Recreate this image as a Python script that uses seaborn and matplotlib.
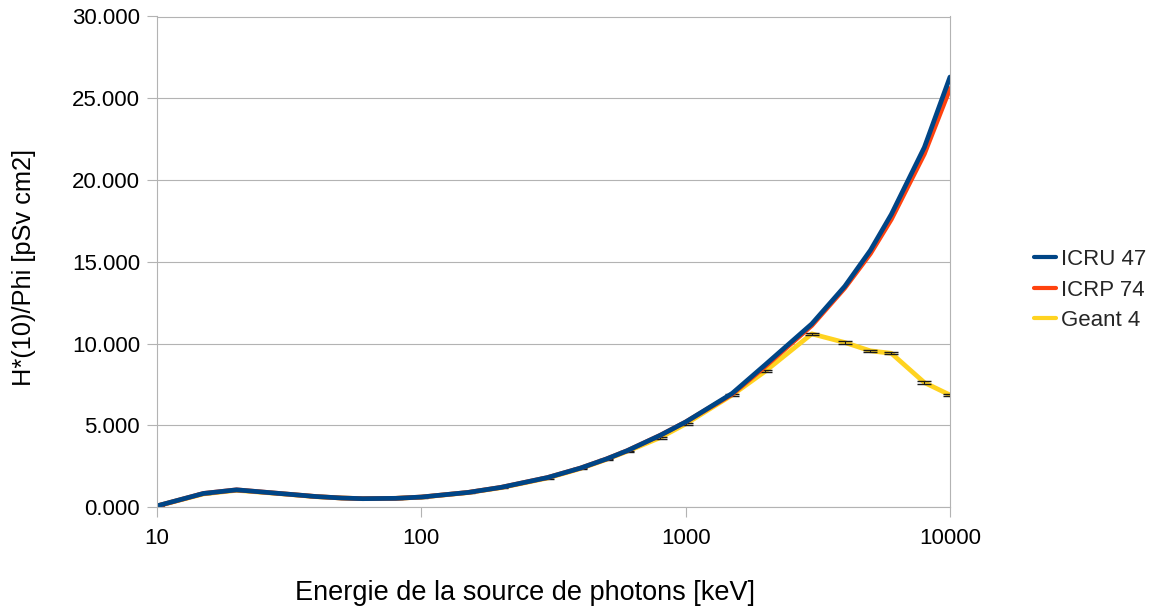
import numpy as np
import pandas as pd
import matplotlib
matplotlib.use("Agg")
import matplotlib.pyplot as plt
from matplotlib.ticker import FuncFormatter, NullLocator
import seaborn as sns

# Photon energies [keV]
energies = [10, 15, 20, 30, 40, 50, 60, 80, 100, 150, 200, 300, 400, 500,
            600, 800, 1000, 1500, 2000, 3000, 4000, 5000, 6000, 8000, 10000]

# Ambient dose equivalent per fluence H*(10)/Phi [pSv cm2]
icru47 = [0.07, 0.83, 1.05, 0.81, 0.64, 0.55, 0.51, 0.53, 0.61, 0.89, 1.20,
          1.80, 2.38, 2.93, 3.44, 4.38, 5.20, 6.95, 8.70, 11.2, 13.5, 15.7,
          17.9, 22.0, 26.3]
icrp74 = [0.061, 0.83, 1.05, 0.81, 0.64, 0.55, 0.51, 0.53, 0.61, 0.89, 1.20,
          1.80, 2.38, 2.93, 3.44, 4.38, 5.20, 6.90, 8.60, 11.1, 13.4, 15.5,
          17.6, 21.6, 25.6]
geant4 = [0.06, 0.80, 1.02, 0.80, 0.63, 0.55, 0.51, 0.53, 0.60, 0.88, 1.18,
          1.77, 2.35, 2.90, 3.40, 4.24, 5.08, 6.85, 8.30, 10.59, 10.06, 9.55,
          9.40, 7.61, 6.85]
geant4_err = [0.02, 0.03, 0.03, 0.03, 0.03, 0.03, 0.03, 0.03, 0.03, 0.04,
              0.04, 0.05, 0.05, 0.05, 0.05, 0.06, 0.06, 0.06, 0.06, 0.07,
              0.07, 0.07, 0.07, 0.08, 0.08]

series_names = ["ICRU 47", "ICRP 74", "Geant 4"]
series_colors = ["#004586", "#ff420e", "#ffd320"]

x_ticks = [10, 100, 1000, 10000]
x_tick_labels = ["10", "100", "1000", "10000"]
y_ticks = [0, 5, 10, 15, 20, 25, 30]

x_title = "Energie de la source de photons [keV]"
y_title = "H*(10)/Phi [pSv cm2]"

df = pd.concat([
    pd.DataFrame({"E": energies, "H": vals, "serie": name})
    for name, vals in zip(series_names, [icru47, icrp74, geant4])
], ignore_index=True)

sns.set_theme(style="white")
plt.rcParams["font.family"] = ["Liberation Sans", "DejaVu Sans"]

grey = "#b3b3b3"
fig = plt.figure(figsize=(11.53, 6.07), dpi=100)
ax = fig.add_axes([157 / 1153, 100 / 607, (950 - 157) / 1153, (507 - 16.5) / 607])

palette = dict(zip(series_names, series_colors))
# Geant 4 underneath, ICRU 47 on top
draw_order = ["Geant 4", "ICRP 74", "ICRU 47"]
sns.lineplot(data=df, x="E", y="H", hue="serie", hue_order=draw_order,
             palette=palette, linewidth=3.4, ax=ax, legend=False,
             estimator=None, sort=False)
for z, line in zip([2.0, 2.2, 2.3], ax.lines):
    line.set_zorder(z)
    line.set_solid_joinstyle("round")

# Statistical uncertainty of the simulation, drawn over its own line only
ax.errorbar(energies, geant4, yerr=geant4_err, fmt="none", ecolor="#1a1a1a",
            elinewidth=0.8, capsize=5, capthick=1.0, zorder=2.1)

ax.set_xscale("log")
ax.set_xlim(10, 10000)
ax.set_ylim(0, 30)
ax.set_xticks(x_ticks, labels=x_tick_labels)
ax.xaxis.set_minor_locator(NullLocator())
ax.set_yticks(y_ticks)
ax.yaxis.set_major_formatter(FuncFormatter(lambda v, p: f"{v:.3f}"))
ax.set_xlabel("")
ax.set_ylabel("")

ax.grid(axis="y", color=grey, linewidth=0.8)
ax.grid(axis="x", visible=False)
for sp in ax.spines.values():
    sp.set_color(grey)
    sp.set_linewidth(0.8)
ax.tick_params(axis="both", colors=grey, labelcolor="#000000", labelsize=16,
               length=7.2, width=0.8, direction="out")
ax.tick_params(axis="x", pad=8, bottom=True)
ax.tick_params(axis="y", pad=5, left=True)

fig.text(525 / 1153, 1 - 593 / 607, x_title, ha="center", va="center",
         fontsize=19.5, color="#000000")
fig.text(24 / 1153, 1 - 267 / 607, y_title, ha="center", va="center",
         rotation=90, fontsize=18.3, color="#000000")

handles = [plt.Line2D([], [], color=c, linewidth=3) for c in series_colors]
fig.legend(handles, series_names, loc="center left",
           bbox_to_anchor=(1034 / 1153, 1 - 290 / 607), frameon=False,
           fontsize=16, handlelength=1.0, handletextpad=0.2,
           labelspacing=0.42, borderpad=0, borderaxespad=0)

fig.savefig("out.png", dpi=100)
